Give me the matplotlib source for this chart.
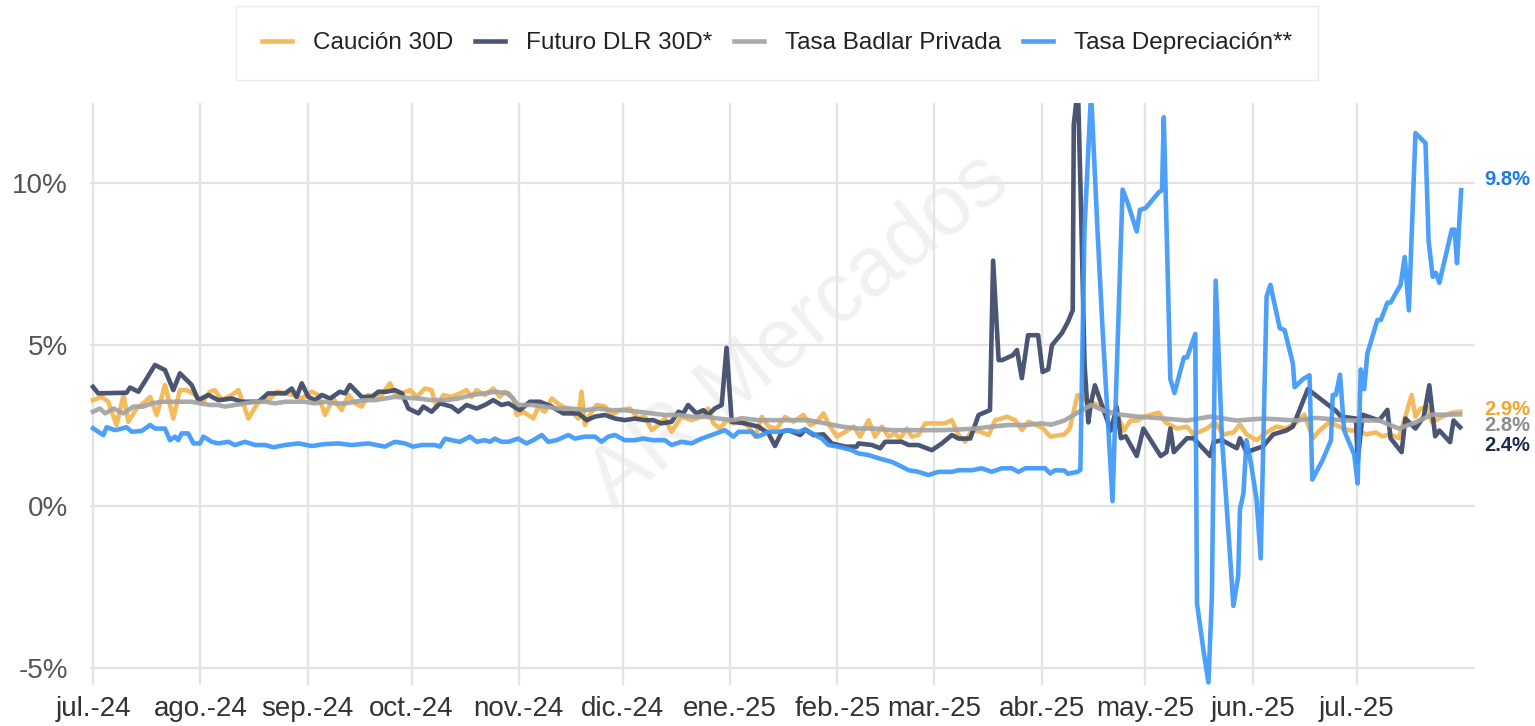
import pandas as pd
import matplotlib
matplotlib.use('Agg')
import matplotlib.pyplot as plt
import matplotlib.transforms as mtransforms

plt.rcParams['font.family'] = ['Liberation Sans', 'DejaVu Sans']

# Days counted from 2024-07-01, values in %
dias_caucion = [0, 2.5, 4.4, 6.8, 8.8, 10.2, 12.6, 14.5, 16.5, 18.4, 20.8, 23.2, 25.1, 27.1, 29.5, 31.4,
                33.8, 35.2, 37.2, 40.1, 42, 44.9, 47.8, 50.6, 53.1, 55.5, 57.9, 60.3, 63.2, 65.1, 67, 69.4,
                71.8, 73.8, 75.7, 77.6, 79.5, 81.5, 83.4, 85.8, 87.7, 89.2, 91.6, 93.5, 95.9, 97.8, 99.2,
                101.2, 103.6, 106, 107.9, 109.4, 110.8, 113.2, 115.6, 117.5, 119, 121.4, 122.4, 124.3,
                127.2, 128.6, 130.5, 132.5, 134.9, 137.8, 140.2, 141.1, 142.1, 144, 145.5, 147.9, 149.8,
                152.2, 155.1, 157.5, 159.4, 161.4, 163.3, 165.2, 167.1, 170, 172.9, 175.8, 177.7, 179.2,
                181.1, 183, 185, 186.9, 189.3, 191.3, 193.2, 195.1, 197.5, 199.9, 202.3, 205.2, 207.2,
                209.1, 211, 212.9, 214.9, 217.3, 219.7, 221.6, 224, 225.9, 227.9, 229.8, 231.7, 233.1,
                235.1, 236.5, 238.4, 240.4, 243.3, 246.1, 248.1, 250, 251.9, 253.9, 256.3, 258.7, 260.6,
                262.5, 264, 266.4, 268.3, 270.2, 272.6, 274.5, 276.5, 280.6, 282.1, 284.4, 287.3, 290.2,
                293.1, 295.4, 297.8, 299.7, 301.7, 303.6, 307.9, 309.8, 313.1, 316, 317.9, 321.7, 324.1,
                326.5, 329.4, 331.3, 333.2, 336.1, 339, 341.8, 344.7, 347.6, 349.9, 352.4, 354.3, 357.1,
                360, 362.9, 365.7, 367.7, 370.5, 372.4, 374.8, 377.2, 379.1, 380.9, 382, 383.4, 385.4,
                386.8, 389.7, 392.5, 394.9]
caucion = [3.28, 3.38, 3.23, 2.51, 3.44, 2.61, 3.02, 3.18, 3.38, 2.82, 3.75, 2.71, 3.59, 3.59, 3.44, 3.18,
           3.54, 3.59, 3.28, 3.44, 3.59, 2.71, 3.23, 3.28, 3.54, 3.49, 3.44, 3.33, 3.54, 3.44, 2.82, 3.33,
           2.97, 3.44, 3.18, 3.08, 3.44, 3.38, 3.44, 3.80, 3.38, 3.49, 3.59, 3.38, 3.64, 3.59, 3.07,
           3.44, 3.38, 3.49, 3.59, 3.38, 3.59, 3.44, 3.64, 3.38, 3.54, 3.33, 2.82, 2.92,
           2.71, 3.08, 2.92, 3.33, 3.13, 2.97, 2.71, 3.54, 2.51, 2.92, 3.13, 3.08, 2.82,
           2.97, 3.02, 2.71, 2.77, 2.35, 2.51, 2.71, 2.30, 2.77, 2.66, 2.77, 3.02, 2.56,
           2.40, 2.66, 2.56, 2.66, 2.46, 2.15, 2.76, 2.46, 2.40, 2.76, 2.61, 2.82, 2.51,
           2.61, 2.87, 2.46, 2.15, 2.30, 2.46, 2.15, 2.66, 2.15, 2.46, 2.15, 2.25, 2.09,
           2.40, 2.15, 2.20, 2.56, 2.56, 2.56, 2.66, 2.20, 1.99, 2.35, 2.30, 2.20, 2.66,
           2.71, 2.77, 2.66, 2.35, 2.61, 2.51, 2.40, 2.15, 2.22, 2.40, 3.44, 3.26, 3.13,
           2.83, 2.95, 2.34, 2.65, 2.65, 2.77, 2.89, 2.59, 2.40, 2.46, 2.22, 2.40, 2.59,
           2.22, 2.28, 2.52, 2.22, 2.04, 2.28, 2.46, 2.40, 2.59, 2.83, 2.10, 2.34, 2.59,
           2.46, 2.34, 2.34, 2.22, 2.28, 2.16, 2.22, 2.10, 2.77, 3.44, 2.77, 3.01, 3.07,
           2.59, 2.77, 2.89, 2.92]

dias_futuro = [0, 1.5, 9.7, 10.7, 13.1, 15.5, 17.9, 20.8, 23.2, 25.1, 28.5, 30.4, 33.3, 36.2, 40.1, 42.9,
               47.8, 50.6, 55.5, 57.4, 58.8, 60.3, 62.2, 64.1, 66.1, 68.5, 71.3, 72.8, 74.2, 77.6, 80.5,
               82.4, 84.8, 87.2, 89.2, 91.1, 94, 95.4, 97.8, 100.2, 103.6, 105.5, 107.9, 110.8, 113.2,
               115.6, 118, 120, 123.3, 126.2, 129.1, 132.5, 135.8, 140.2, 142.6, 145, 147.9, 150.8,
               153.6, 156.5, 159.4, 161.8, 164.2, 167.1, 169.1, 170.5, 171.9, 174.3, 176.3, 177.7,
               179.6, 181.6, 183, 184.5, 188.4, 192.2, 195.1, 197, 199, 200.9, 204.3, 205.7, 208.1, 211,
               213.4, 217.3, 220.6, 221.1, 225, 227.4, 228.8, 233.6, 235.6, 238.4, 242.3, 245.2, 248.1,
               250, 253.4, 255.8, 259.1, 260, 261.6, 262.6, 265.7, 266.9, 268.3, 270.1, 273, 274.3,
               275.9, 277, 279.9, 281.6, 283, 283.3, 284.5, 285.4, 286.4, 287.5, 288.3, 289.4, 291.6,
               294, 295.7, 296.9, 298.3, 301.5, 303.4, 308.4, 310.1, 311.2, 312.2, 316, 317.9, 322.7,
               323.7, 326.1, 330.4, 331.3, 333.2, 338, 340.9, 344.7, 346.6, 350.9, 359, 360.5, 364.8,
               365.3, 366.7, 371.5, 373.9, 374.8, 378, 379.1, 382, 384.4, 386, 387.7, 388.9, 392, 393,
               394.9]
futuro = [3.69, 3.49, 3.51, 3.67, 3.54, 3.95, 4.37, 4.21, 3.59, 4.11, 3.75, 3.28, 3.44, 3.28, 3.33, 3.23,
          3.23, 3.49, 3.49, 3.64, 3.38, 3.80, 3.38, 3.28, 3.44, 3.33, 3.54, 3.49, 3.75, 3.38, 3.38,
          3.54, 3.54, 3.59, 3.49, 3.02, 2.87, 3.08, 2.92, 3.18, 3.08, 2.92, 3.13, 3.02, 3.13,
          3.28, 3.13, 3.18, 2.97, 3.23, 3.23, 3.08, 2.87, 2.87, 2.66, 2.77, 2.82, 2.71,
          2.66, 2.71, 2.66, 2.66, 2.56, 2.61, 2.92, 2.87, 3.13, 2.87, 2.97, 2.82,
          3.02, 3.13, 4.90, 2.61, 2.56, 2.46, 2.25, 1.86, 2.30, 2.35, 2.20, 2.37, 2.20, 2.22,
          1.94, 1.84, 1.84, 1.94, 1.89, 1.79, 1.99, 1.99, 1.89, 1.89, 1.73, 1.94, 2.20,
          2.09, 2.09, 2.82, 2.97, 7.60, 4.52, 4.52, 4.67, 4.83, 3.96, 5.29, 5.29, 4.15,
          4.23, 4.98, 5.36, 5.70, 6.06, 11.8, 13.0, 9.20, 4.41, 2.59, 3.20, 3.74, 3.07,
          2.34, 3.07, 2.10, 2.16, 1.55, 2.40, 1.55, 1.67, 2.40, 1.67, 2.10, 2.10, 1.55,
          1.98, 2.04, 1.79, 2.10, 1.67, 1.85, 2.22, 2.34, 2.46, 3.62, 2.95, 2.77, 2.71,
          1.37, 2.83, 2.65, 2.98, 2.10, 1.67, 2.71, 2.40, 2.77, 3.74, 2.16, 2.34, 1.98, 2.65,
          2.44]

dias_badlar = [0, 2, 3.5, 5.9, 8.8, 11.7, 14.5, 17, 19.8, 22.7, 25.6, 28.5, 30.9, 33.8, 36.2, 38.1, 41,
               43.9, 46.8, 49.7, 52.6, 55.5, 58.3, 61.2, 64.1, 67, 69.9, 72.8, 75.7, 78.6, 81.5, 84.3,
               87.2, 90.1, 94, 97.8, 101.7, 105.5, 109.4, 113.2, 116.1, 120, 122.8, 126.7, 130.5, 134.4,
               138.2, 142.1, 146, 149.8, 153.6, 157.5, 161.4, 165.2, 169.1, 172.9, 176.8, 180.6, 185,
               187.4, 192.2, 197, 201.9, 206.7, 211.5, 216.3, 221.1, 225.9, 230.7, 235.6, 240.4, 245.2,
               250, 254.8, 259.6, 264.4, 269.3, 274.1, 276.8, 280.6, 284.4, 288.3, 292.1, 296.9, 301.7,
               309.3, 316, 322.7, 330.4, 338, 347.6, 353.3, 361.9, 371.5, 377.2, 382, 386.8, 390.6, 394.9]
badlar = [2.92, 3.02, 2.87, 3.02, 2.87, 3.08, 3.08, 3.18, 3.23, 3.23, 3.23, 3.23, 3.18, 3.13, 3.13, 3.08, 3.13,
          3.18, 3.23, 3.23, 3.18, 3.23, 3.23, 3.23, 3.18, 3.23, 3.18, 3.18, 3.23, 3.28, 3.28, 3.33,
          3.38, 3.36, 3.33, 3.28, 3.28, 3.33, 3.44, 3.49, 3.54, 3.49, 3.13, 3.13, 3.08, 3.02,
          3.02, 2.97, 3.02, 2.97, 2.97, 2.92, 2.87, 2.82, 2.82, 2.77, 2.77, 2.71, 2.66,
          2.72, 2.66, 2.66, 2.66, 2.66, 2.56, 2.46, 2.40, 2.40, 2.35, 2.35, 2.35, 2.35,
          2.37, 2.40, 2.46, 2.51, 2.51, 2.56, 2.52, 2.65, 2.89, 3.13, 2.95, 2.83, 2.77,
          2.71, 2.65, 2.77, 2.65, 2.71, 2.65, 2.73, 2.65, 2.65, 2.40, 2.59, 2.83, 2.83, 2.84]

dias_deprec = [0, 1.5, 3, 3.9, 6.4, 9.7, 11.2, 14.1, 16.5, 17.9, 20.8, 22.2, 23.7, 24.6, 25.6, 27.5, 29,
               30.9, 31.9, 34.3, 36.2, 39.1, 41, 43.9, 46.8, 49.7, 52.1, 55.5, 59.3, 63.2, 67, 70.9, 74.7,
               79.5, 84.3, 87.2, 90.1, 92.5, 95, 98.8, 100.2, 101.7, 103.6, 106, 108.9, 110.8, 113.2,
               114.7, 116.1, 118, 120, 122.8, 125.2, 127.2, 129.6, 131.5, 133.9, 137.3, 139.2, 142.1,
               145, 146.9, 148.8, 150.8, 153.6, 156.5, 158.9, 161.8, 165.2, 167.1, 170, 172.9, 175.8,
               178.7, 182.5, 185, 186.5, 190.3, 191.7, 193.2, 195.1, 198, 200.9, 203.8, 205.7, 208.6,
               210.5, 212.4, 215.3, 219.2, 221.1, 224, 226.9, 230.7, 232.7, 235.6, 238.4, 241.3, 244.2,
               248.1, 250, 253.9, 256.7, 259.6, 262.5, 265.4, 267.3, 269.3, 273.1, 275, 276.5, 277.9,
               280.6, 281.6, 284.4, 285.2, 286.4, 288.3, 290.2, 291.6, 294.5, 296.1, 297.4, 298.8,
               301.5, 302.4, 304.1, 307.9, 308.8, 309.3, 311.2, 312.4, 315.1, 316, 318.4, 318.9, 320.8,
               322.2, 323.2, 324.3, 326.1, 328, 329.4, 330.8, 331.3, 332.3, 333.2, 334.7, 336.1, 337.3,
               339, 340.1, 342.8, 344.2, 346.6, 347.1, 349.5, 351.4, 352.2, 355.2, 357.6, 358.1, 359,
               360.2, 361.4, 364.3, 365.3, 366.2, 367.2, 368.1, 371, 372, 373.9, 374.8, 377.7, 378.9,
               380.1, 382, 384.9, 385.8, 387, 387.9, 388.9, 392.5, 393.3, 394, 395.2]
deprec = [2.41, 2.30, 2.20, 2.44, 2.35, 2.44, 2.30, 2.33, 2.51, 2.40, 2.40, 2.04, 2.15, 2.04, 2.25, 2.25, 1.94,
          1.94, 2.15, 1.99, 1.94, 1.99, 1.89, 1.99, 1.89, 1.89, 1.82, 1.89, 1.94, 1.86, 1.92, 1.94, 1.89,
          1.94, 1.84, 1.99, 1.94, 1.84, 1.89, 1.89, 1.84, 2.09, 2.04, 1.99, 2.15, 1.99, 2.04,
          1.99, 2.09, 1.99, 1.99, 2.09, 1.94, 2.04, 2.20, 1.99, 2.04, 2.20, 2.09, 2.15,
          2.15, 1.99, 2.15, 2.20, 2.04, 2.04, 2.09, 2.04, 2.04, 1.89, 1.99, 1.94, 2.09,
          2.20, 2.35, 2.15, 2.30, 2.30, 2.15, 2.20, 2.30, 2.30, 2.35, 2.30, 2.37, 2.20,
          2.09, 1.89, 1.84, 1.73, 1.63, 1.58, 1.48, 1.37, 1.27, 1.11, 1.06, 0.96, 1.06,
          1.06, 1.11, 1.11, 1.17, 1.06, 1.17, 1.17, 1.06, 1.17, 1.17, 1.17, 1.01, 1.11,
          1.10, 1.00, 1.06, 1.12, 8.56, 12.8, 8.44, 5.51, 0.15, 5.51, 9.80, 9.41,
          8.50, 9.17, 9.23, 9.72, 9.78, 12.04, 3.93, 3.50, 4.60, 4.60, 5.33, -3.02, -4.49,
          -5.46, -2.78, 6.98, 2.10, -0.83, -3.09, -2.17, -0.10, 0.39, 2.04, 1.18, 0.20, -1.62,
          6.49, 6.85, 5.51, 5.45, 4.41, 3.68, 3.93, 4.05, 0.82, 1.43, 2.04, 3.44, 3.44,
          4.07, 2.34, 1.60, 0.70, 4.23, 3.62, 4.72, 5.76, 5.76, 6.30, 6.30, 6.85, 7.71,
          6.06, 11.55, 11.24, 8.20, 7.10, 7.22, 6.91, 8.56, 8.56, 7.52, 9.78]

nombres = ['Caución 30D', 'Futuro DLR 30D*', 'Tasa Badlar Privada', 'Tasa Depreciación**']
colores = ['#f4b650', '#3a4868', '#a3a3a3', '#3d98fa']
etiq_color = ['#f2a52e', '#1c2a4d', '#8c8c8c', '#1a7ae8']

meses = ['jul.-24', 'ago.-24', 'sep.-24', 'oct.-24', 'nov.-24', 'dic.-24', 'ene.-25',
         'feb.-25', 'mar.-25', 'abr.-25', 'may.-25', 'jun.-25', 'jul.-25']
y_ticks = [-5, 0, 5, 10]

base = pd.Timestamp('2024-07-01')


def to_dates(dias):
    return base + pd.to_timedelta(dias, unit='D')


fig = plt.figure(figsize=(15.35, 7.26), dpi=100)
ax = fig.add_axes([90 / 1535, 41 / 726, 1385 / 1535, 582 / 726])

series = [(dias_caucion, caucion), (dias_futuro, futuro), (dias_badlar, badlar), (dias_deprec, deprec)]
for (d, v), name, c in zip(series, nombres, colores):
    ax.plot(to_dates(d), v, color=c, lw=3.3, alpha=0.92, label=name)

# month gridlines
ticks = pd.date_range('2024-07-01', '2025-07-01', freq='MS')
ax.set_xticks(ticks)
ax.set_xticklabels(meses)
ax.set_yticks(y_ticks)
ax.set_yticklabels([f'{t}%' for t in y_ticks])
ax.grid(True, color='#e3e3e3', lw=1.6)
ax.set_axisbelow(True)
ax.set_xlim(base - pd.Timedelta(days=0.87), base + pd.Timedelta(days=399.2))
ax.set_ylim(-5.54, 12.48)
for s in ax.spines.values():
    s.set_visible(False)
ax.tick_params(axis='x', length=0, pad=8, labelsize=20, labelcolor='#333333')
ax.tick_params(axis='y', length=0, pad=16, labelsize=20, labelcolor='#555555')

# watermark
ax.text(base + pd.Timedelta(days=204), 5.4, 'AR Mercados', fontsize=61, color='#d8d8d8', alpha=0.35,
        rotation=39, ha='center', va='center', zorder=0)

# end labels (caucion, futuro, badlar, deprec)
label_y = [3.0, 1.86, 2.5, 10.1]
orden = [0, 2, 1, 3]
trans = mtransforms.blended_transform_factory(ax.transAxes, ax.transData)
for i in orden:
    val = series[i][1][-1]
    ax.text(1.007, label_y[i], f'{val:.1f}%', transform=trans, color=etiq_color[i],
            fontsize=14.5, fontweight='bold', ha='left', va='center', clip_on=False)

leg = fig.legend(loc='center', bbox_to_anchor=(777 / 1535, 1 - 43 / 726), ncol=4, fontsize=17.5,
                 frameon=True, fancybox=False, edgecolor='#e6e6e6', handlelength=1.25,
                 handletextpad=0.85, columnspacing=0.9, borderpad=1.05)
leg.get_frame().set_linewidth(1.0)
for t in leg.get_texts():
    t.set_color('#222222')

fig.savefig('out.png', dpi=100)
plt.close(fig)
